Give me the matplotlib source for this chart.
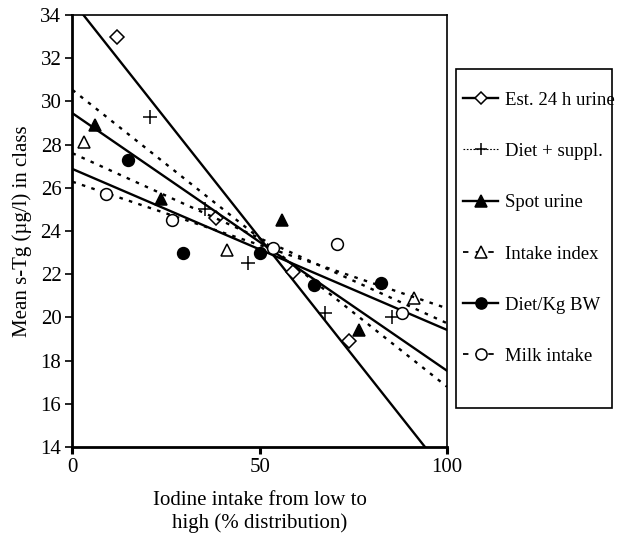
import matplotlib
matplotlib.use("Agg")
import matplotlib.pyplot as plt
from matplotlib.lines import Line2D
from matplotlib.patches import Rectangle

plt.rcParams['font.family'] = ['Liberation Serif', 'DejaVu Serif']

# points (x = % of distribution, y = mean s-Tg)
est_x = [12.0, 38.3, 59.0, 73.7]
est_y = [33.0, 24.6, 22.1, 18.9]
diet_x = [20.7, 35.4, 46.9, 67.5, 85.3]
diet_y = [29.3, 25.0, 22.5, 20.2, 20.0]
spot_x = [6.1, 23.7, 56.0, 76.6]
spot_y = [28.9, 25.5, 24.5, 19.4]
intake_x = [3.2, 41.2, 91.2]
intake_y = [28.1, 23.1, 20.9]
dietkg_x = [14.8, 29.4, 50.1, 64.6, 82.4]
dietkg_y = [27.3, 23.0, 23.0, 21.5, 21.6]
milk_x = [9.0, 26.6, 53.6, 70.5, 88.0]
milk_y = [25.7, 24.5, 23.2, 23.4, 20.2]

# fitted lines: value at x=0 and at x=100
fit_x = [0, 100]
est_fit = [34.64, 12.71]
diet_fit = [30.53, 16.79]
spot_fit = [29.45, 17.53]
intake_fit = [27.60, 19.73]
dietkg_fit = [26.87, 19.42]
milk_fit = [26.28, 20.42]

labels = ['Est. 24 h urine', 'Diet + suppl.', 'Spot urine',
          'Intake index', 'Diet/Kg BW', 'Milk intake']

dot = (0, (1.5, 2.7))
series = [
    (est_x, est_y, est_fit, '-', 'D', 'white', 7.5),
    (diet_x, diet_y, diet_fit, dot, '+', 'black', 10),
    (spot_x, spot_y, spot_fit, '-', '^', 'black', 9),
    (intake_x, intake_y, intake_fit, dot, '^', 'white', 9),
    (dietkg_x, dietkg_y, dietkg_fit, '-', 'o', 'black', 8.5),
    (milk_x, milk_y, milk_fit, dot, 'o', 'white', 8.5),
]

fig = plt.figure(figsize=(6.17, 5.39), dpi=100)
ax = fig.add_axes([0.1175, 0.1707, 0.607, 0.8015])

for xs, ys, fit, ls, mk, fc, ms in series:
    ax.plot(fit_x, fit, color='black', linestyle=ls, linewidth=1.7)
    ax.plot(xs, ys, linestyle='none', marker=mk, markersize=ms,
            markerfacecolor=fc, markeredgecolor='black', markeredgewidth=1.1)

ax.set_xlim(0, 100)
ax.set_ylim(14, 34)
ax.set_xticks([0, 50, 100])
ax.set_yticks(range(14, 35, 2))
ax.tick_params(axis='both', direction='out', length=5, labelsize=15, pad=3)
ax.tick_params(axis='x', width=2.2)
ax.tick_params(axis='y', width=1.2)
for side in ['left', 'bottom']:
    ax.spines[side].set_linewidth(2)
for side in ['top', 'right']:
    ax.spines[side].set_linewidth(1.2)

ax.set_ylabel('Mean s-Tg (µg/l) in class', fontsize=15, labelpad=6)
ax.set_xlabel('Iodine intake from low to\nhigh (% distribution)', fontsize=15,
              labelpad=10, linespacing=1.25)

# legend entries
leg_styles = [
    ('-', 1.7, 'D', 'white', 6.5),
    ((0, (1.5, 1.5)), 0.8, '+', 'black', 9),
    ('-', 1.7, '^', 'black', 8),
    ((0, (3, 4)), 1.3, '^', 'white', 8),
    ('-', 1.7, 'o', 'black', 8),
    ((0, (3, 4)), 1.3, 'o', 'white', 8),
]
handles = [Line2D([], [], color='black', linestyle=ls, linewidth=lw, marker=mk,
                  markersize=ms, markerfacecolor=fc, markeredgecolor='black',
                  markeredgewidth=1.1)
           for ls, lw, mk, fc, ms in leg_styles]
fig.legend(handles, labels, loc='upper left', bbox_to_anchor=(0.750, 0.830),
           frameon=False, fontsize=13.5, labelspacing=1.82, handlelength=1.9,
           handletextpad=0.35, borderpad=0, borderaxespad=0)
fig.patches.append(Rectangle((0.739, 0.243), 0.253, 0.629, transform=fig.transFigure,
                             fill=False, edgecolor='black', linewidth=1.2))

fig.savefig('out.png', dpi=100)
